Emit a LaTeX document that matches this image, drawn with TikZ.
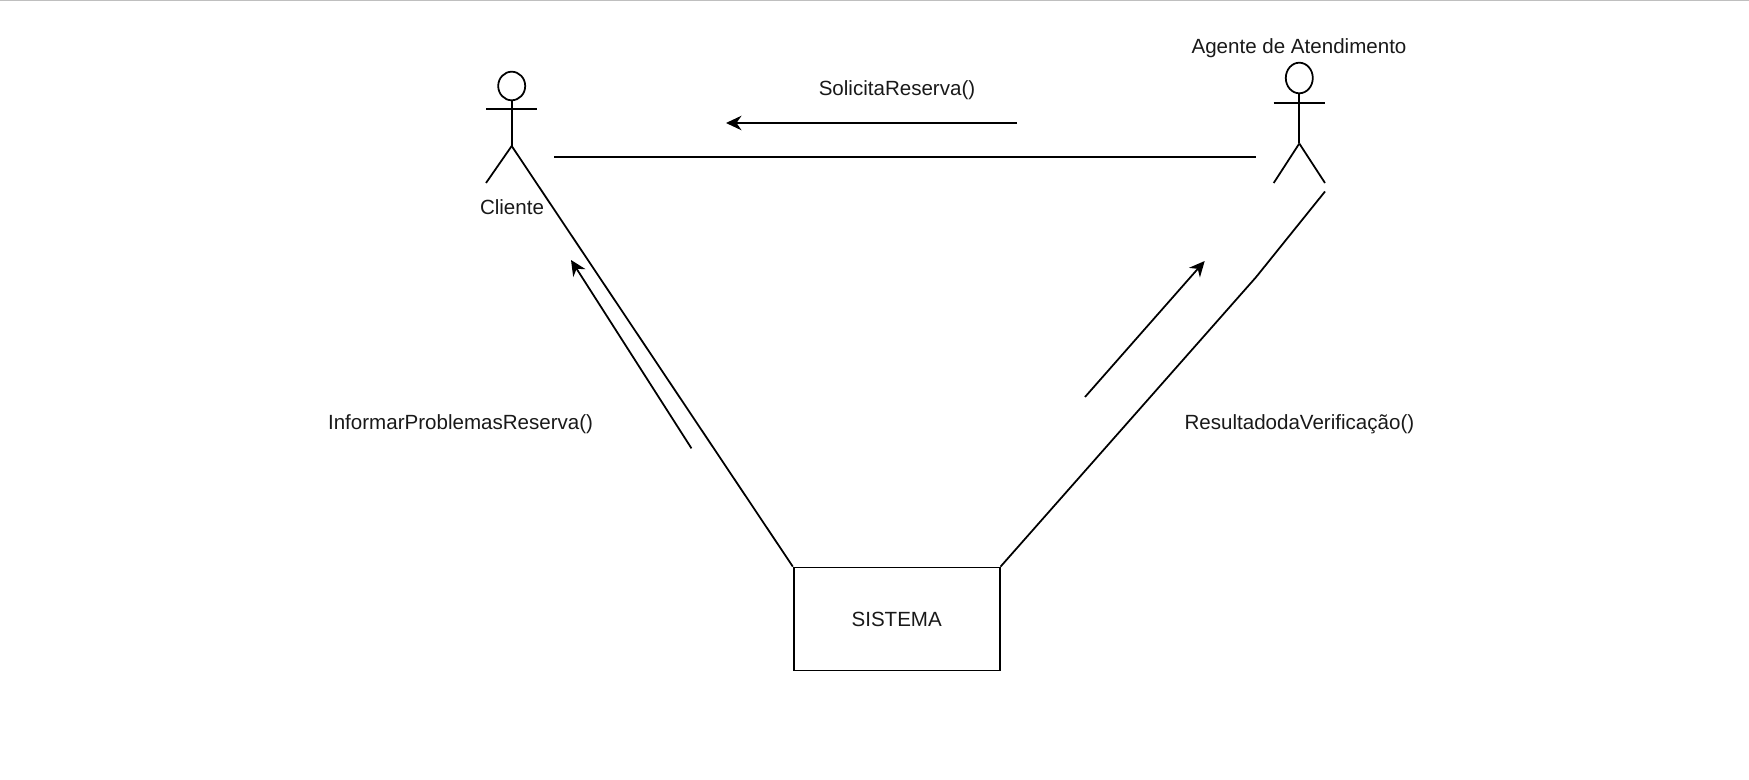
\documentclass[tikz,border=0pt]{standalone}
\usepackage{fontspec}
\setmainfont{Liberation Sans}
\usetikzlibrary{arrows.meta,calc}

\begin{document}
\begin{tikzpicture}[x=0.02cm,y=-0.02cm,line width=1pt]
\tikzstyle{label} = [inner sep=0pt, font=\fontsize{11.7}{14}\selectfont, text=black!90]
\tikzstyle{arrowline} = [-{Stealth[length=0.31cm,width=0.29cm]}]
\useasboundingbox (0,0) rectangle (1749,780);
\draw[black!25, line width=0.6pt] (0,0.5) -- (1749,0.5);
% cliente
\coordinate (CH) at (511.7,86);
\coordinate (CN) at (511.7,100);
\coordinate (CC) at (511.7,146);
\draw (CH) ellipse [x radius=13.5, y radius=14.3];
\draw (CN) -- (CC);
\draw (486,109) -- (537,109);
\draw (CC) -- (486,183);
% agente
\coordinate (AH) at (1299.3,78);
\coordinate (AN) at (1299.3,93.3);
\coordinate (AC) at (1299.3,143.5);
\draw (AH) ellipse [x radius=13.5, y radius=15.3];
\draw (AN) -- (AC);
\draw (1273.7,103) -- (1325,103);
\draw (AC) -- (1273.7,183);
\draw (AC) -- (1325,183);
% sistema
\node[draw, label, minimum width=4.12cm, minimum height=2.06cm] (sistema) at (896.7,619) {SISTEMA};
\node[label] (cliente) at (512,207) {Cliente};
\node[label] (agente) at (1299,48.5) {Agente de Atendimento};
\node[label] (solicita) at (897,90) {SolicitaReserva()};
\node[label] (informar) at (460.6,424) {InformarProblemasReserva()};
\node[label] (resultado) at (1299.4,424) {ResultadodaVerificação()};
% ligacoes
\coordinate (L1) at (554.3,157.3);
\coordinate (L2) at (1256.3,157.3);
\coordinate (R1) at (1325,191.5);
\coordinate (R2) at (1256,277.2);
\draw (L1) -- (L2);
\draw (CC) -- (sistema.north west);
\draw (R1) -- (R2) -- (sistema.north east);
% setas
\coordinate (S1) at (1017,123);
\coordinate (S2) at (726,123);
\coordinate (I1) at (691.5,448.4);
\coordinate (I2) at (571,260);
\coordinate (V1) at (1085,397);
\coordinate (V2) at (1204.7,261);
\draw[arrowline] (S1) -- (S2);
\draw[arrowline] (I1) -- (I2);
\draw[arrowline] (V1) -- (V2);
\end{tikzpicture}
\end{document}
